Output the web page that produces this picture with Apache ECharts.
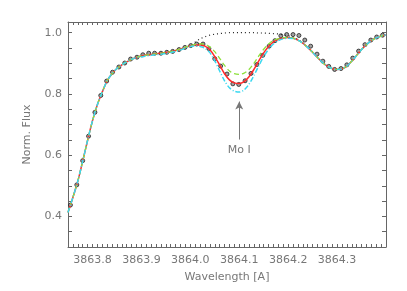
<!DOCTYPE html>
<html><head><meta charset="utf-8">
<script src="https://cdn.jsdelivr.net/npm/echarts@6/dist/echarts.min.js"></script>
<style>html,body{margin:0;padding:0;background:#fff}#c{width:407px;height:291px}</style>
</head><body><div id="c"></div>
<script>
// Observed spectrum
var obsWl = [3863.755,3863.768,3863.780,3863.792,3863.805,3863.817,3863.829,3863.841,3863.854,3863.866,
3863.878,3863.891,3863.903,3863.915,3863.927,3863.940,3863.952,3863.964,3863.977,3863.989,
3864.001,3864.013,3864.026,3864.038,3864.050,3864.062,3864.075,3864.087,3864.099,3864.112,
3864.124,3864.136,3864.148,3864.161,3864.173,3864.185,3864.197,3864.210,3864.222,3864.234,
3864.246,3864.259,3864.271,3864.283,3864.295,3864.308,3864.320,3864.332,3864.344,3864.357,
3864.369,3864.381,3864.393];
var obsFlux = [0.437,0.503,0.582,0.662,0.740,0.795,0.842,0.871,0.888,0.901,
0.914,0.920,0.928,0.933,0.933,0.933,0.936,0.939,0.945,0.952,
0.958,0.963,0.963,0.948,0.915,0.891,0.865,0.833,0.831,0.843,
0.867,0.896,0.926,0.956,0.974,0.990,0.994,0.994,0.991,0.976,
0.956,0.930,0.907,0.890,0.880,0.883,0.895,0.917,0.940,0.961,
0.976,0.986,0.992];
// Synthetic spectra
var modelWl = [3863.75,3863.76,3863.77,3863.78,3863.79,3863.80,3863.81,3863.82,3863.83,3863.84,
3863.85,3863.86,3863.87,3863.88,3863.89,3863.90,3863.91,3863.92,3863.93,3863.94,
3863.95,3863.96,3863.97,3863.98,3863.99,3864.00,3864.01,3864.02,3864.03,3864.04,
3864.05,3864.06,3864.07,3864.08,3864.09,3864.10,3864.11,3864.12,3864.13,3864.14,
3864.15,3864.16,3864.17,3864.18,3864.19,3864.20,3864.21,3864.22,3864.23,3864.24,
3864.25,3864.26,3864.27,3864.28,3864.29,3864.30,3864.31,3864.32,3864.33,3864.34,
3864.35,3864.36,3864.37,3864.38,3864.39,3864.40];
var fluxBest = [0.413,0.462,0.515,0.580,0.648,0.712,0.765,0.806,0.843,0.866,
0.883,0.895,0.905,0.913,0.919,0.924,0.927,0.929,0.931,0.933,
0.935,0.938,0.942,0.947,0.952,0.957,0.960,0.960,0.956,0.944,
0.922,0.894,0.866,0.846,0.836,0.834,0.840,0.856,0.880,0.908,
0.934,0.955,0.970,0.979,0.983,0.984,0.982,0.976,0.966,0.952,
0.936,0.919,0.903,0.891,0.883,0.880,0.882,0.891,0.907,0.926,
0.945,0.961,0.974,0.983,0.989,0.993];
var fluxLow = [0.413,0.462,0.515,0.580,0.648,0.712,0.765,0.806,0.843,0.866,
0.883,0.895,0.905,0.913,0.919,0.924,0.927,0.929,0.931,0.933,
0.935,0.938,0.942,0.947,0.953,0.958,0.962,0.964,0.962,0.954,
0.938,0.916,0.893,0.875,0.866,0.864,0.868,0.880,0.900,0.924,
0.946,0.963,0.975,0.981,0.984,0.985,0.982,0.976,0.966,0.952,
0.936,0.919,0.903,0.891,0.883,0.880,0.882,0.891,0.907,0.926,
0.945,0.961,0.974,0.983,0.989,0.993];
var fluxHigh = [0.413,0.462,0.515,0.580,0.648,0.712,0.765,0.806,0.843,0.866,
0.883,0.895,0.905,0.913,0.919,0.921,0.924,0.926,0.928,0.930,
0.932,0.935,0.939,0.944,0.950,0.955,0.957,0.955,0.949,0.935,
0.908,0.875,0.843,0.820,0.809,0.806,0.813,0.832,0.860,0.892,
0.922,0.946,0.963,0.974,0.980,0.982,0.981,0.976,0.966,0.952,
0.936,0.919,0.903,0.891,0.883,0.880,0.882,0.891,0.907,0.926,
0.945,0.961,0.974,0.983,0.989,0.993];
var contWl = [3863.94,3863.95,3863.96,3863.97,3863.98,3863.99,3864.00,3864.01,3864.02,3864.03,
3864.04,3864.05,3864.06,3864.07,3864.08,3864.09,3864.10,3864.11,3864.12,3864.13,
3864.14,3864.15,3864.16,3864.17,3864.18,3864.19,3864.20,3864.21,3864.22,3864.23,3864.24];
var fluxNoMo = [0.933,0.935,0.938,0.942,0.947,0.952,0.958,0.970,0.980,0.987,
0.992,0.995,0.997,0.999,1.000,1.000,1.000,1.000,1.000,1.000,
0.999,0.999,0.998,0.997,0.996,0.993,0.990,0.986,0.978,0.967,0.952];
var yLabels = [0.4,0.6,0.8,1.0];
var xLabels = [3863.8,3863.9,3864.0,3864.1,3864.2,3864.3];
var lineWl = 3864.10, arrowFrom = 0.651, arrowTo = 0.775, lineName = 'Mo I';

function pairs(xs, ys){ return xs.map(function(x,i){ return [x, ys[i]]; }); }
var gray = '#777';
var font = 'DejaVu Sans';
function xAxisDef(pos, show){
  return {type:'value', position:pos, min:3863.75, max:3864.40, interval:0.01,
    axisLine:{show:true, onZero:false, lineStyle:{color:'#666'}},
    axisTick:{show:true, inside:true, length:3, lineStyle:{color:'#666'}},
    splitLine:{show:false},
    axisLabel:{show:show, margin:8, color:gray, fontFamily:font, fontSize:11,
      formatter:function(v){ for (var i=0;i<xLabels.length;i++){ if (Math.abs(v-xLabels[i])<0.002) return xLabels[i].toFixed(1);} return ''; }},
    name: show ? 'Wavelength [A]' : '', nameLocation:'middle', nameGap:25,
    nameTextStyle:{color:gray, fontFamily:font, fontSize:11}};
}
function yAxisDef(pos, show){
  return {type:'value', position:pos, min:0.3, max:1.035, interval:0.05,
    axisLine:{show:true, onZero:false, lineStyle:{color:'#666'}},
    axisTick:{show:true, inside:true, length:4, lineStyle:{color:'#666'}},
    splitLine:{show:false},
    axisLabel:{show:show, margin:6, color:gray, fontFamily:font, fontSize:11,
      formatter:function(v){ for (var i=0;i<yLabels.length;i++){ if (Math.abs(v-yLabels[i])<0.002) return yLabels[i].toFixed(1);} return ''; }},
    name: show ? 'Norm. Flux' : '', nameLocation:'middle', nameGap:35,
    nameTextStyle:{color:gray, fontFamily:font, fontSize:11}};
}
var chart = echarts.init(document.getElementById('c'), null, {renderer:'canvas'});
chart.setOption({
  animation:false,
  grid:{left:68, top:22, right:21, bottom:44},
  xAxis:[xAxisDef('bottom', true), xAxisDef('top', false)],
  yAxis:[yAxisDef('left', true), yAxisDef('right', false)],
  series:[
    {type:'line', data:pairs(contWl, fluxNoMo), smooth:0.3, showSymbol:false,
      lineStyle:{color:'#222', width:1.2, type:[1,3]}},
    {type:'line', data:pairs(modelWl, fluxBest), smooth:0.3, showSymbol:false,
      lineStyle:{color:'#ff2a2a', width:1.5}},
    {type:'line', data:pairs(modelWl, fluxLow), smooth:0.3, showSymbol:false,
      lineStyle:{color:'#8de03a', width:1.3, type:[5,3]}},
    {type:'line', data:pairs(modelWl, fluxHigh), smooth:0.3, showSymbol:false,
      lineStyle:{color:'#3ad8f0', width:1.5, type:[5,2,1,2]},
      markLine:{silent:true, symbol:['none','arrow'], symbolSize:[6,8],
        lineStyle:{color:'#777', width:1, type:'solid'},
        label:{show:true, position:'start', formatter:lineName, color:gray, fontFamily:font, fontSize:11, distance:5},
        data:[[{coord:[lineWl, arrowFrom]},{coord:[lineWl, arrowTo]}]]}},
    {type:'scatter', data:pairs(obsWl, obsFlux), symbol:'circle', symbolSize:4,
      itemStyle:{color:'#888', borderColor:'#222', borderWidth:1}}
  ]
});
</script></body></html>
